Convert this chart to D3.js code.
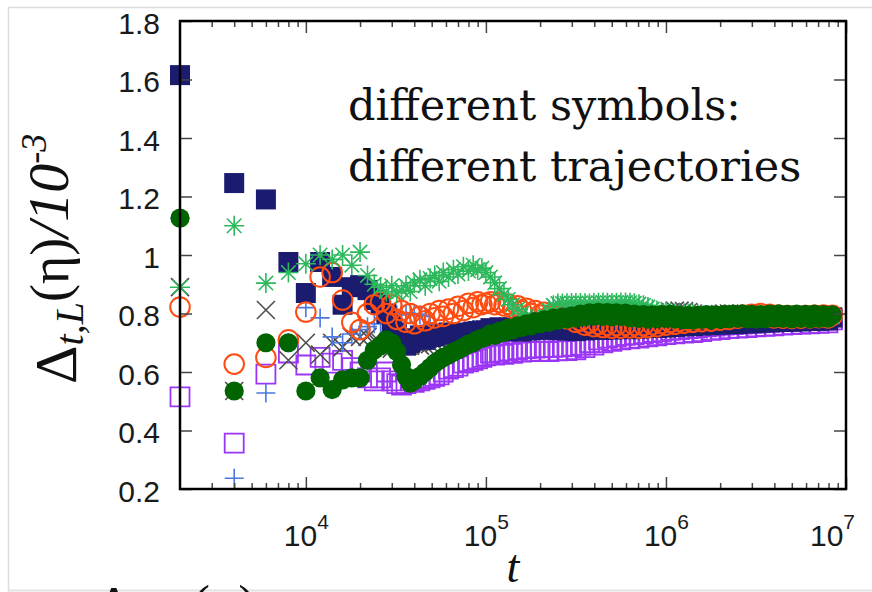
<!DOCTYPE html>
<html><head><meta charset="utf-8">
<script src="https://cdn.jsdelivr.net/npm/d3@7"></script>
<style>body{margin:0;background:#fff}svg{display:block}</style>
</head><body>
<svg id="c" width="872" height="592"></svg>
<script>
// ---- data ----
const T = [2000,4000,6000,8000,10000,12000,14000,16000,18000,20000,
  22000,24000,26000,28000,30000,32000,34000,36000,38000,40000,43000,46000,49000,52000,55000,58000,62000,66000,70000,75000,80000,85000,90000,95000,
  100000,106000,112000,119000,126000,133000,141000,150000,158000,168000,178000,188000,200000,211000,224000,237000,251000,266000,282000,299000,
  316000,335000,355000,376000,398000,422000,447000,473000,501000,531000,562000,596000,631000,668000,708000,750000,794000,841000,891000,944000,
  1000000,1060000,1120000,1190000,1260000,1330000,1410000,1500000,1580000,1680000,1780000,1880000,2000000,2110000,2240000,2370000,2510000,2660000,2820000,2990000,
  3160000,3350000,3550000,3760000,3980000,4220000,4470000,4730000,5010000,5310000,5620000,5960000,6310000,6680000,7080000,7500000,7940000,8410000];

const purpleOpenSq = [0.515,0.357,0.593,0.665,0.624,0.65,0.63,0.64,0.615,0.60,
  0.58,0.57,0.58,0.60,0.57,0.56,0.555,0.56,0.57,0.565,0.57,0.575,0.58,0.585,0.59,0.60,0.61,0.615,0.62,0.63,0.635,0.64,0.645,0.65,
  0.655,0.665,0.658,0.668,0.66,0.672,0.664,0.676,0.668,0.68,0.67,0.682,0.671,0.683,0.67,0.684,0.672,0.686,0.673,0.688,
  0.676,0.692,0.683,0.70,0.692,0.71,0.70,0.716,0.705,0.72,0.71,0.725,0.713,0.728,0.716,0.731,0.72,0.735,0.724,0.738,
  0.728,0.742,0.73,0.745,0.733,0.748,0.735,0.75,0.738,0.754,0.742,0.757,0.745,0.76,0.748,0.762,0.75,0.764,0.752,0.766,
  0.754,0.768,0.756,0.77,0.758,0.772,0.76,0.774,0.762,0.775,0.764,0.776,0.765,0.777,0.766,0.778,0.768,0.778];

const navyFilledSq = [1.615,1.246,1.19,0.976,0.87,0.976,0.925,0.83,0.89,0.897,
  0.88,0.846,0.83,0.80,0.76,0.735,0.71,0.69,0.70,0.715,0.725,0.71,0.72,0.722,0.728,0.73,0.735,0.73,0.728,0.732,0.735,0.738,0.74,0.742,
  0.742,0.75,0.744,0.753,0.745,0.75,0.74,0.748,0.738,0.748,0.742,0.754,0.746,0.756,0.744,0.752,0.743,0.754,0.742,0.75,
  0.74,0.75,0.742,0.754,0.745,0.756,0.744,0.754,0.745,0.757,0.748,0.758,0.746,0.756,0.748,0.76,0.75,0.761,0.751,0.763,
  0.752,0.765,0.754,0.767,0.756,0.768,0.757,0.77,0.759,0.771,0.76,0.773,0.762,0.774,0.763,0.776,0.764,0.777,0.766,0.778,
  0.767,0.779,0.769,0.78,0.77,0.781,0.771,0.782,0.772,0.783,0.773,0.784,0.774,0.785,0.775,0.786,0.776,0.786];

const bluePlus = [1.126,0.237,0.528,0.70,0.82,0.785,0.72,0.70,0.73,0.745,
  0.755,0.765,0.765,0.775,0.785,0.795,0.80,0.802,0.80,0.798,0.795,0.79,0.76,0.74,0.735,0.73,0.73,0.728,0.73,0.732,0.735,0.738,0.74,0.742,
  0.73,0.735,0.74,0.745,0.75,0.755,0.76,0.762,0.766,0.77,0.773,0.776,0.78,0.785,0.805,0.818,0.826,0.82,0.81,0.80,
  0.795,0.792,0.79,0.79,0.789,0.79,0.791,0.79,0.788,0.787,0.788,0.79,0.79,0.789,0.788,0.788,0.789,0.79,0.79,0.789,
  0.79,0.789,0.79,0.791,0.79,0.789,0.788,0.789,0.79,0.79,0.791,0.79,0.789,0.79,0.79,0.791,0.79,0.789,0.79,0.79,
  0.789,0.79,0.791,0.79,0.79,0.789,0.79,0.79,0.791,0.79,0.789,0.79,0.79,0.79,0.789,0.79,0.79,0.79];

const grayTimes = [0.89,0.535,0.812,0.64,0.70,0.66,0.70,0.685,0.72,0.72,
  0.72,0.71,0.70,0.69,0.68,0.69,0.69,0.70,0.69,0.70,0.69,0.69,0.695,0.70,0.705,0.71,0.715,0.72,0.725,0.73,0.735,0.74,0.742,0.745,
  0.73,0.735,0.74,0.745,0.75,0.755,0.758,0.762,0.766,0.77,0.772,0.775,0.778,0.78,0.782,0.785,0.787,0.789,0.79,0.792,
  0.793,0.794,0.795,0.796,0.797,0.798,0.797,0.796,0.795,0.796,0.797,0.796,0.795,0.794,0.793,0.792,0.791,0.79,0.79,0.79,
  0.795,0.805,0.81,0.81,0.808,0.805,0.80,0.795,0.792,0.79,0.792,0.795,0.798,0.80,0.80,0.80,0.798,0.795,0.792,0.79,
  0.789,0.79,0.79,0.789,0.79,0.79,0.789,0.79,0.79,0.79,0.789,0.79,0.79,0.79,0.789,0.79,0.79,0.79];

const orangeOpenCirc = [0.822,0.627,0.65,0.71,0.805,0.925,0.94,0.846,0.77,0.745,
  0.80,0.83,0.84,0.80,0.83,0.78,0.81,0.77,0.80,0.765,0.79,0.775,0.80,0.785,0.81,0.79,0.815,0.80,0.825,0.81,0.835,0.82,0.84,0.83,
  0.835,0.84,0.83,0.838,0.826,0.832,0.818,0.826,0.81,0.818,0.80,0.81,0.795,0.804,0.79,0.80,0.788,0.796,0.782,0.788,
  0.77,0.775,0.76,0.768,0.755,0.763,0.752,0.76,0.75,0.759,0.75,0.76,0.751,0.76,0.75,0.759,0.752,0.762,0.755,0.766,
  0.76,0.77,0.763,0.774,0.767,0.778,0.77,0.78,0.772,0.782,0.774,0.784,0.777,0.787,0.78,0.79,0.784,0.794,0.787,0.797,
  0.79,0.80,0.788,0.797,0.785,0.794,0.784,0.793,0.783,0.792,0.784,0.793,0.785,0.794,0.786,0.795,0.785,0.794];

const greenAsterisk = [0.89,1.10,0.904,0.94,0.97,1.0,0.985,1.0,0.965,1.01,
  0.93,0.90,0.89,0.875,0.895,0.87,0.88,0.895,0.875,0.905,0.915,0.895,0.92,0.93,0.91,0.94,0.925,0.95,0.935,0.96,0.945,0.965,0.95,0.955,
  0.94,0.925,0.905,0.885,0.865,0.848,0.83,0.815,0.80,0.79,0.78,0.775,0.776,0.79,0.81,0.828,0.834,0.834,0.835,0.836,
  0.836,0.836,0.835,0.834,0.836,0.837,0.838,0.837,0.836,0.837,0.838,0.838,0.837,0.835,0.832,0.828,0.822,0.815,0.81,0.806,
  0.804,0.802,0.80,0.80,0.801,0.80,0.80,0.798,0.795,0.792,0.79,0.789,0.79,0.791,0.79,0.789,0.788,0.789,0.79,0.79,
  0.789,0.788,0.789,0.79,0.79,0.789,0.79,0.791,0.79,0.789,0.79,0.79,0.789,0.79,0.791,0.79,0.79,0.79];

const darkGreenCirc = [1.126,0.535,0.70,0.70,0.535,0.58,0.54,0.573,0.58,0.58,
  0.64,0.675,0.69,0.71,0.70,0.67,0.625,0.585,0.562,0.57,0.585,0.60,0.615,0.63,0.64,0.65,0.658,0.668,0.675,0.685,0.695,0.70,0.71,0.715,
  0.72,0.73,0.725,0.74,0.735,0.75,0.745,0.758,0.752,0.765,0.758,0.772,0.765,0.778,0.77,0.784,0.776,0.788,0.781,0.792,
  0.784,0.798,0.789,0.802,0.791,0.804,0.79,0.803,0.789,0.802,0.79,0.801,0.786,0.798,0.783,0.796,0.781,0.795,0.782,0.796,
  0.783,0.797,0.781,0.794,0.779,0.793,0.778,0.794,0.78,0.796,0.779,0.795,0.78,0.797,0.782,0.798,0.783,0.799,0.782,0.797,
  0.781,0.796,0.782,0.798,0.784,0.799,0.783,0.797,0.782,0.798,0.783,0.797,0.782,0.798,0.783,0.796,0.784,0.795];

const yTicks = [0.2,0.4,0.6,0.8,1,1.2,1.4,1.6,1.8];
const xMajor = [1e4,1e5,1e6,1e7];
const noteLines = ["different symbols:","different trajectories"];

// ---- drawing ----
const svg = d3.select("#c");
const X0=180, X1=846, Y0=21, Y1=489;
const x = d3.scaleLog().domain([2000,1e7]).range([X0,X1]);
const y = d3.scaleLinear().domain([0.2,1.8]).range([Y1,Y0]);

// faint slide frame
svg.append("path").attr("d","M8.5,592V7.5H872").attr("fill","none").attr("stroke","#dcdcdc").attr("stroke-width",1.5);
svg.append("line").attr("x1",8).attr("x2",872).attr("y1",590.5).attr("y2",590.5).attr("stroke","#e2e2e2").attr("stroke-width",2);

const SYM = {
  fsq: "M-10,-10h20v20h-20z",
  fci: "M9.6,0A9.6,9.6 0 1,1 -9.6,0A9.6,9.6 0 1,1 9.6,0Z",
  osq: "M-9.5,-9.5h19v19h-19z",
  oci: "M9.8,0A9.8,9.8 0 1,1 -9.8,0A9.8,9.8 0 1,1 9.8,0Z",
  plus: "M-9.5,0h19M0,-9.5v19",
  times: "M-9,-9L9,9M-9,9L9,-9",
  ast: "M-10,0h20M0,-10v20M-7.2,-7.2L7.2,7.2M-7.2,7.2L7.2,-7.2"
};
function drawSeries(vals, kind, color, filled, sw){
  const pts = T.map((t,i)=>({t, v: vals[i]})).filter(d=>d.v!=null);
  const g = svg.append("g");
  const s = g.selectAll("path").data(pts).join("path")
    .attr("transform", d=>`translate(${x(d.t).toFixed(2)},${y(d.v).toFixed(2)})`)
    .attr("d", SYM[kind]);
  if (filled) s.attr("fill", color).attr("stroke","none");
  else s.attr("fill","none").attr("stroke", color).attr("stroke-width",sw || 1.6);
}
drawSeries(purpleOpenSq, "osq", "#9b35f5", false, 1.8);
drawSeries(grayTimes, "times", "#4d4d4d", false, 1.6);
drawSeries(bluePlus, "plus", "#4a78e0", false, 1.6);
drawSeries(navyFilledSq, "fsq", "#1b1b70", true);
drawSeries(orangeOpenCirc, "oci", "#ff4d12", false, 2);
drawSeries(greenAsterisk, "ast", "#2eb85c", false, 1.6);
drawSeries(darkGreenCirc, "fci", "#006400", true);

// ---- axes ----
const tickStyle = g => { g.select(".domain").remove(); g.selectAll(".tick line").attr("stroke","#444").attr("stroke-width",1.5); };
const xMinor = x.ticks().filter(t => !xMajor.includes(t) && t > 2000);

const gB = svg.append("g").attr("transform",`translate(0,${Y1})`)
  .call(d3.axisBottom(x).tickValues(xMajor).tickSize(-12).tickFormat(()=>""))
  .call(tickStyle);
gB.attr("font-family","'Liberation Sans', Arial, sans-serif").attr("font-size",30);
gB.selectAll(".tick text").attr("y",57).attr("dy",null).attr("fill","#1a1a1a")
  .attr("x", d => d === 1e7 ? -14 : 0)
  .each(function(d){
    const t = d3.select(this);
    t.append("tspan").text("10");
    t.append("tspan").attr("dy",-17).attr("font-size",21).text(Math.round(Math.log10(d)));
  });
svg.append("g").attr("transform",`translate(0,${Y1})`)
  .call(d3.axisBottom(x).tickValues(xMinor).tickSize(-6).tickFormat(()=>"")).call(tickStyle);
svg.append("g").attr("transform",`translate(0,${Y0})`)
  .call(d3.axisTop(x).tickValues(xMajor).tickSize(-12).tickFormat(()=>"")).call(tickStyle);
svg.append("g").attr("transform",`translate(0,${Y0})`)
  .call(d3.axisTop(x).tickValues(xMinor).tickSize(-6).tickFormat(()=>"")).call(tickStyle);

const gL = svg.append("g").attr("transform",`translate(${X0},0)`)
  .call(d3.axisLeft(y).tickValues(yTicks).tickSize(-12).tickPadding(20)
    .tickFormat(d => d === 1 ? "1" : d3.format(".1f")(d)))
  .call(tickStyle);
gL.attr("font-family","'Liberation Sans', Arial, sans-serif").attr("font-size",30);
gL.selectAll(".tick text").attr("fill","#1a1a1a").attr("dy","0.4em");
svg.append("g").attr("transform",`translate(${X1},0)`)
  .call(d3.axisRight(y).tickValues(yTicks).tickSize(-12).tickFormat(()=>"")).call(tickStyle);

// border
svg.append("rect").attr("x",X0).attr("y",Y0).attr("width",X1-X0).attr("height",Y1-Y0)
  .attr("fill","none").attr("stroke","#000").attr("stroke-width",2.5);

// ---- labels ----
const yl = svg.append("text").attr("transform","translate(76,384) rotate(-90)")
  .attr("font-family","'Liberation Serif', 'DejaVu Serif', serif").attr("fill","#111");
yl.append("tspan").attr("font-size",60).text("Δ");
yl.append("tspan").attr("font-size",40).attr("font-style","italic").attr("dy",7).text("t,L");
yl.append("tspan").attr("font-size",54).attr("dy",-15).text("(η)");
yl.append("tspan").attr("font-size",58).attr("font-style","italic").text("/10");
yl.append("tspan").attr("font-size",36).attr("font-style","italic").attr("dy",-22).text("-3");

svg.append("text").attr("x",(X0+X1)/2).attr("y",582).attr("text-anchor","middle")
  .attr("font-family","'Liberation Serif', serif").attr("font-style","italic").attr("font-size",46)
  .attr("fill","#111").text("t");

const note = svg.append("text").attr("font-family","'DejaVu Serif', serif").attr("font-size",43).attr("fill","#111");
noteLines.forEach((s,i)=> note.append("tspan").attr("x",348).attr("y",120+i*61).text(s));

// partially visible text at the bottom edge (cut off in the reference too)
const bt = svg.append("text").attr("font-family","'Liberation Serif', serif").attr("fill","#111");
bt.append("tspan").attr("x",96).attr("y",626).attr("font-size",56).text("Δ");
bt.append("tspan").attr("font-size",38).attr("font-style","italic").attr("dy",6).text("t,L");
bt.append("tspan").attr("x",192).attr("y",623).attr("font-size",54).text("(η)");
</script>
</body></html>
